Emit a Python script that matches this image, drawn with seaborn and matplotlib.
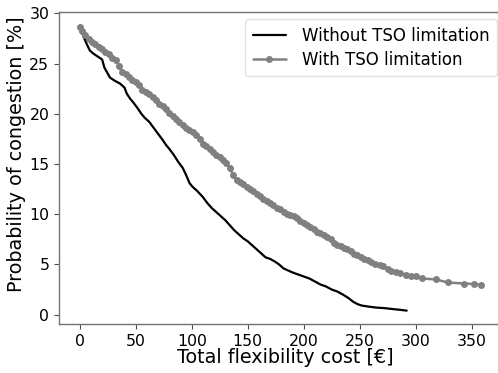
import matplotlib
matplotlib.use("Agg")
import matplotlib.pyplot as plt
import seaborn as sns
import pandas as pd

# Without TSO limitation
cost_without = [0, 3, 6, 9, 12, 16, 20, 22, 24, 27, 31, 36, 40, 42, 45, 48, 52, 55, 58, 62,
                66, 70, 74, 77, 80, 84, 88, 92, 95, 98, 101, 105, 110, 114, 118, 122, 126, 130,
                134, 138, 142, 146, 150, 154, 158, 162, 166, 170, 174, 178, 182, 186, 190, 195,
                200, 205, 210, 215, 220, 225, 230, 235, 240, 244, 248, 252, 258, 265, 272, 280,
                286, 292]
prob_without = [28.6, 27.8, 27.0, 26.3, 26.0, 25.7, 25.4, 24.6, 24.2, 23.6, 23.3, 23.0, 22.6,
                22.0, 21.5, 21.1, 20.5, 20.0, 19.6, 19.2, 18.6, 18.0, 17.4, 16.9, 16.5, 15.9,
                15.2, 14.6, 13.9, 13.1, 12.7, 12.3, 11.7, 11.1, 10.6, 10.2, 9.8, 9.4, 8.9, 8.4,
                8.0, 7.6, 7.3, 6.9, 6.5, 6.1, 5.7, 5.55, 5.3, 5.0, 4.6, 4.4, 4.2, 4.0, 3.8, 3.6,
                3.3, 3.0, 2.8, 2.5, 2.3, 2.0, 1.65, 1.3, 1.05, 0.9, 0.8, 0.7, 0.65, 0.55, 0.48,
                0.4]

# With TSO limitation
cost_with = [0, 2, 5, 8, 11, 14, 17, 20, 23, 26, 29, 32, 35, 38, 41, 44, 47, 50, 53, 56, 59,
             62, 65, 68, 71, 74, 77, 80, 83, 86, 89, 92, 95, 98, 101, 104, 107, 110, 113, 116,
             119, 122, 125, 128, 131, 134, 137, 140, 143, 146, 149, 152, 155, 158, 161, 164,
             167, 170, 173, 176, 179, 182, 185, 188, 191, 194, 197, 200, 203, 206, 209, 212,
             215, 218, 221, 224, 227, 230, 233, 236, 239, 242, 245, 248, 251, 254, 257, 260,
             264, 268, 271, 275, 278, 282, 286, 291, 296, 300, 306, 318, 329, 343, 352, 358]
prob_with = [28.6, 28.2, 27.8, 27.4, 27.1, 26.9, 26.6, 26.4, 26.1, 25.9, 25.5, 25.3, 24.8,
             24.2, 24.0, 23.7, 23.4, 23.2, 22.9, 22.4, 22.2, 22.0, 21.7, 21.4, 21.0, 20.8,
             20.5, 20.1, 19.8, 19.5, 19.2, 18.9, 18.6, 18.4, 18.2, 17.9, 17.5, 17.0, 16.8,
             16.5, 16.2, 15.9, 15.7, 15.4, 15.1, 14.6, 13.9, 13.4, 13.2, 13.0, 12.7, 12.5,
             12.3, 12.0, 11.8, 11.5, 11.3, 11.1, 10.9, 10.6, 10.5, 10.2, 10.0, 9.9, 9.8, 9.6,
             9.3, 9.1, 8.9, 8.7, 8.5, 8.2, 8.1, 7.9, 7.7, 7.5, 7.1, 6.9, 6.8, 6.6, 6.5, 6.3,
             6.0, 5.9, 5.7, 5.5, 5.4, 5.2, 5.0, 4.9, 4.8, 4.5, 4.3, 4.2, 4.1, 3.95, 3.85, 3.8,
             3.6, 3.5, 3.2, 3.1, 3.05, 2.95]

labels = ["Without TSO limitation", "With TSO limitation"]
x_ticks = [0, 50, 100, 150, 200, 250, 300, 350]
y_ticks = [0, 5, 10, 15, 20, 25, 30]

sns.set_style("ticks")
plt.rcParams["font.family"] = ["DejaVu Sans"]
plt.rcParams["font.size"] = 12
plt.rcParams["text.color"] = "black"
plt.rcParams["axes.labelcolor"] = "black"
plt.rcParams["xtick.labelcolor"] = "black"
plt.rcParams["ytick.labelcolor"] = "black"

df_a = pd.DataFrame({"cost": cost_without, "prob": prob_without})
df_b = pd.DataFrame({"cost": cost_with, "prob": prob_with})

fig = plt.figure(figsize=(4.98, 3.73), dpi=100)
ax = fig.add_axes([0.1185, 0.1314, 0.8916, 0.8365])

sns.lineplot(data=df_a, x="cost", y="prob", ax=ax, color="black", linewidth=1.6,
             sort=False, estimator=None, label=labels[0])
sns.lineplot(data=df_b, x="cost", y="prob", ax=ax, color="gray", linewidth=1.8,
             marker="o", markersize=5, markeredgewidth=0, sort=False, estimator=None,
             label=labels[1])

ax.set_xlim(-18.5, 378)
ax.set_ylim(-0.93, 30.13)
ax.set_xticks(x_ticks)
ax.set_yticks(y_ticks)
ax.tick_params(labelsize=11.3, color="0.3", labelcolor="black", length=3.5)
ax.set_xlabel("Total flexibility cost [€]", fontsize=13.8, labelpad=-0.6, color="black")
ax.set_ylabel("Probability of congestion [%]", fontsize=13.8, labelpad=2.5, color="black")
ax.yaxis.label.set_y(0.545)
ax.xaxis.label.set_x(0.509)
for s in ax.spines.values():
    s.set_color("0.45")
    s.set_linewidth(1.0)

leg = ax.legend(loc="upper right", bbox_to_anchor=(0.998, 0.948),
                bbox_transform=fig.transFigure, borderaxespad=0, fontsize=12,
                frameon=True, handletextpad=0.95, labelspacing=0.35, borderpad=0.45)
leg.get_frame().set_edgecolor("0.85")
for t in leg.get_texts():
    t.set_color("black")

fig.savefig("out.png", dpi=100)
